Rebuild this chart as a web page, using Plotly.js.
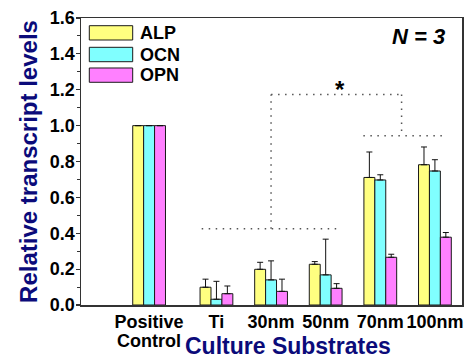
<!DOCTYPE html>
<html>
<head>
<meta charset="utf-8">
<script src="https://cdn.plot.ly/plotly-3.0.1.min.js"></script>
<style>html,body{margin:0;padding:0;background:#fff;}#chart{width:473px;height:361px;}</style>
</head>
<body>
<div id="chart"></div>
<script>
// ---- data ----
const categories = ["Positive", "Ti", "30nm", "50nm", "70nm", "100nm"];
const categorySub = ["Control", "", "", "", "", ""];
const seriesNames = ["ALP", "OCN", "OPN"];
const alp = [1.0, 0.099, 0.199, 0.227, 0.711, 0.782];
const ocn = [1.0, 0.032, 0.140, 0.168, 0.697, 0.747];
const opn = [1.0, 0.063, 0.076, 0.093, 0.266, 0.378];
// upper error (one-sided, + only); null = no error bar
const alpErr = [null, 0.045, 0.039, 0.015, 0.142, 0.099];
const ocnErr = [null, 0.100, 0.106, 0.199, 0.029, 0.063];
const opnErr = [null, 0.043, 0.068, 0.026, 0.017, 0.026];
const sampleLabel = "N = 3";
const sigMark = "*";
// significance bracket levels (y values)
const sigLow = 0.425, sigTop = 1.173, sigRight = 0.944;

// ---- layout positions (not data) ----
const xPos = [-0.233, 1, 2, 3, 4, 5];
const colors = ["#FFFF80", "#80FFFF", "#FF80FF"];
const FONT = "Liberation Sans, Arial, Helvetica, sans-serif";
const axisCol = "#333333";
const titleCol = "#0b0b7a";

const vals = [alp, ocn, opn];
const errs = [alpErr, ocnErr, opnErr];
const traces = vals.map((v, i) => ({
  type: "bar",
  name: seriesNames[i],
  x: xPos,
  y: v,
  marker: {color: colors[i], line: {color: "#1a1a1a", width: 1}},
  error_y: {type: "data", symmetric: false, array: errs[i].map(e => e === null ? NaN : e),
            arrayminus: errs[i].map(() => 0), color: "#111", thickness: 1, width: 3},
  showlegend: false,
  hoverinfo: "x+y"
}));

// legend drawn as boxes + text in paper coords
const L = {x0: 0.0218, x1: 0.1357, tx: 0.1496, rows: [[0.9732, 0.9233], [0.8979, 0.8477], [0.8258, 0.776]]};
const shapes = [];
const annotations = [];
seriesNames.forEach((n, i) => {
  const r = L.rows[i];
  shapes.push({type: "rect", xref: "paper", yref: "paper", x0: L.x0, x1: L.x1, y0: r[1], y1: r[0],
               fillcolor: colors[i], line: {color: "#1a1a1a", width: 1}});
  annotations.push({xref: "paper", yref: "paper", x: L.tx, y: (r[0] + r[1]) / 2, xanchor: "left", yanchor: "middle",
                    text: n, showarrow: false, font: {family: FONT, size: 18, color: "#000", weight: "bold"}});
});

// second line of multi-line category labels (tight line spacing)
categorySub.forEach((s, i) => {
  if (!s) return;
  annotations.push({xref: "x", yref: "paper", x: xPos[i], y: -0.083, xanchor: "center", yanchor: "top",
                    text: s, showarrow: false, font: {family: FONT, size: 18, color: "#000", weight: "bold"}});
});

// significance bracket (dotted)
const dot = {color: "#555", width: 1.5, dash: "1.5px,5.5px"};
const seg = (x0, y0, x1, y1) => ({type: "line", xref: "x", yref: "y", x0, y0, x1, y1, line: dot});
shapes.push(seg(xPos[1] - 0.27, sigLow, xPos[3] + 0.23, sigLow));
shapes.push(seg(xPos[2], sigLow, xPos[2], sigTop));
shapes.push(seg(xPos[2], sigTop, xPos[4] + 0.39, sigTop));
shapes.push(seg(xPos[4] + 0.39, sigTop, xPos[4] + 0.39, sigRight));
shapes.push(seg(xPos[4] - 0.31, sigRight, xPos[5] + 0.22, sigRight));

annotations.push({xref: "x", yref: "y", x: xPos[3] + 0.26, y: sigTop, yanchor: "bottom", xanchor: "center",
                  text: sigMark, showarrow: false, yshift: -10,
                  font: {family: FONT, size: 24, color: "#000", weight: "bold"}});
annotations.push({xref: "paper", yref: "paper", x: 0.9606, y: 0.935, xanchor: "right", yanchor: "middle",
                  text: sampleLabel, showarrow: false,
                  font: {family: FONT, size: 22, color: "#000", weight: "bold", style: "italic"}});
annotations.push({xref: "paper", yref: "paper", x: 0.5446, y: -0.195, xanchor: "center", yanchor: "bottom",
                  text: "Culture Substrates", showarrow: false,
                  font: {family: FONT, size: 23, color: titleCol, weight: "bold"}});

const layout = {
  width: 473, height: 361,
  margin: {l: 81, r: 11, t: 18, b: 56, pad: 0},
  paper_bgcolor: "#fff", plot_bgcolor: "#fff",
  barmode: "group", bargap: 0.4, bargroupgap: 0,
  font: {family: FONT, color: "#000"},
  xaxis: {
    range: [-1.48, 5.496], tickvals: xPos, ticktext: categories,
    ticks: "", showgrid: false, zeroline: false,
    showline: true, linecolor: axisCol, linewidth: 1.5, mirror: true,
    tickfont: {family: FONT, size: 18, color: "#000", weight: "bold"}
  },
  yaxis: {
    range: [0, 1.6], dtick: 0.2, tick0: 0, tickformat: ".1f",
    ticks: "outside", ticklen: 4, tickwidth: 1.2, tickcolor: axisCol,
    ticklabelstandoff: -3,
    minor: {dtick: 0.1, ticks: "outside", ticklen: 3, tickcolor: axisCol, tickwidth: 1},
    showgrid: false, zeroline: false,
    showline: true, linecolor: axisCol, linewidth: 1.5, mirror: true,
    tickfont: {family: FONT, size: 18, color: "#000", weight: "bold"},
    title: {text: "Relative transcript levels", standoff: 5,
            font: {family: FONT, size: 24, color: titleCol, weight: "bold"}}
  },
  shapes, annotations
};

Plotly.newPlot("chart", traces, layout, {displayModeBar: false, staticPlot: true});
</script>
</body>
</html>
